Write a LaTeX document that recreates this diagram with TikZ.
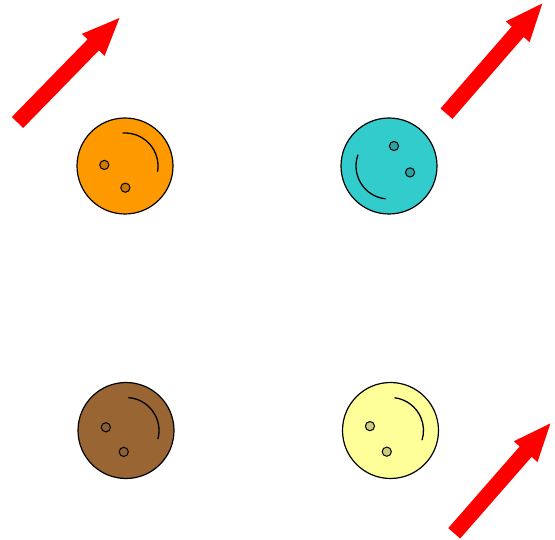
\documentclass[tikz,border=0pt]{standalone}
\begin{document}
\begin{tikzpicture}[x=1pt,y=-1pt,
  face/.style={circle, draw=black, line width=1.2pt, minimum size=96pt, inner sep=0pt},
  eye/.style={draw=black, line width=1pt},
  smile/.style={draw=black, line width=1.3pt},
  blockarrow/.style={fill=red}]
\useasboundingbox (0,0) rectangle (555,540);
\definecolor{cOrange}{HTML}{FF9900}
\definecolor{cCyan}{HTML}{33CCCC}
\definecolor{cBrown}{HTML}{996633}
\definecolor{cYellow}{HTML}{FFFF99}

% arrows
\newcommand{\myarrow}[3]{%
  \begin{scope}[shift={(#1,#2)}, rotate=#3]
    \fill[blockarrow] (0,-7.9) -- (108.5,-7.9) -- (108.5,-15.8) -- (146,0)
      -- (108.5,15.8) -- (108.5,7.9) -- (0,7.9) -- cycle;
  \end{scope}}
\myarrow{17.5}{122.5}{45.7}
\myarrow{446.5}{113.7}{49}
\myarrow{454.2}{533.3}{48.8}

% faces
\node[face, fill=cOrange] (orange) at (125,166) {};
\node[face, fill=cCyan] (cyan) at (389,166) {};
\node[face, fill=cBrown] (brown) at (126,430.5) {};
\node[face, fill=cYellow] (yellow) at (390.5,430.5) {};

\begin{scope}[shift={(orange.center)}, y=1pt]
  \filldraw[eye, fill=cOrange!80!black] (177:20.7) circle[radius=4.6];
  \filldraw[eye, fill=cOrange!80!black] (-89:21.7) circle[radius=4.6];
  \draw[smile] (94:33) arc[start angle=94, end angle=-10, radius=33];
\end{scope}
\begin{scope}[shift={(cyan.center)}, y=1pt]
  \filldraw[eye, fill=cCyan!80!black] (76:20.6) circle[radius=4.6];
  \filldraw[eye, fill=cCyan!80!black] (-17:22) circle[radius=4.6];
  \draw[smile] (160:33) arc[start angle=160, end angle=264, radius=33];
\end{scope}
\begin{scope}[shift={(brown.center)}, y=1pt]
  \filldraw[eye, fill=cBrown!92!black] (171:20.4) circle[radius=4.6];
  \filldraw[eye, fill=cBrown!92!black] (264:21.5) circle[radius=4.6];
  \draw[smile] (86:33) arc[start angle=86, end angle=-15, radius=33];
\end{scope}
\begin{scope}[shift={(yellow.center)}, y=1pt]
  \filldraw[eye, fill=cYellow!80!black] (168:21) circle[radius=4.6];
  \filldraw[eye, fill=cYellow!80!black] (260:21.5) circle[radius=4.6];
  \draw[smile] (83:33) arc[start angle=83, end angle=-17, radius=33];
\end{scope}
\end{tikzpicture}
\end{document}
